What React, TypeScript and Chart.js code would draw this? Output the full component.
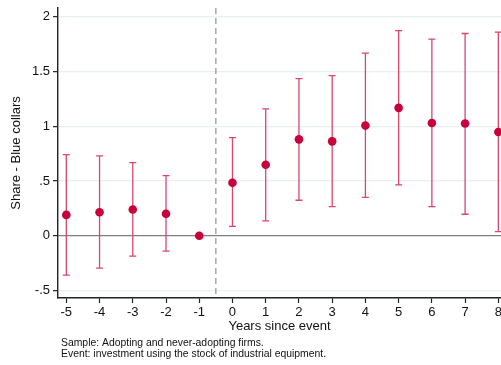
import React, { useEffect, useRef } from "react";
import { Chart, registerables } from "chart.js";
Chart.register(...registerables);

const years = [-5, -4, -3, -2, -1, 0, 1, 2, 3, 4, 5, 6, 7, 8];
const estimates = [0.19, 0.214, 0.24, 0.2, 0, 0.483, 0.648, 0.88, 0.862, 1.006, 1.168, 1.03, 1.025, 0.948];
const lowerCI = [-0.36, -0.296, -0.186, -0.14, null, 0.085, 0.135, 0.324, 0.266, 0.351, 0.465, 0.266, 0.196, 0.037];
const upperCI = [0.74, 0.73, 0.667, 0.548, null, 0.896, 1.159, 1.434, 1.462, 1.667, 1.874, 1.795, 1.847, 1.86];
const yTicks = [-0.5, 0, 0.5, 1, 1.5, 2];
const xTicks = years;
const eventLine = -0.5;
const yTitle = "Share - Blue collars";
const xTitle = "Years since event";
const notes = [
  "Sample: Adopting and never-adopting firms.",
  "Event: investment using the stock of industrial equipment.",
];

const FONT = "'Liberation Sans', Arial, sans-serif";
const POINT_COLOR = "#c8003b";
const BAR_COLOR = "#d9476e";

const fmtY = (v: number) => (v === 0 ? "0" : String(v).replace(/^(-?)0\./, "$1."));

export default function App() {
  const ref = useRef<HTMLCanvasElement | null>(null);
  useEffect(() => {
    document.body.style.margin = "0";
    const canvas = ref.current;
    if (!canvas) return;

    const errorBars = {
      id: "errorBars",
      beforeDatasetsDraw(chart: any) {
        const { ctx, scales, chartArea } = chart;
        const xs = scales.x;
        const ys = scales.y;
        ctx.save();
        const ex = xs.getPixelForValue(eventLine);
        ctx.strokeStyle = "#9a9a9a";
        ctx.lineWidth = 1.3;
        ctx.setLineDash([6, 4]);
        ctx.beginPath();
        ctx.moveTo(ex, chartArea.top);
        ctx.lineTo(ex, chartArea.bottom);
        ctx.stroke();
        ctx.setLineDash([]);
        ctx.strokeStyle = BAR_COLOR;
        ctx.lineWidth = 1.3;
        const cap = 3.5;
        years.forEach((yr, i) => {
          const lo = lowerCI[i];
          const hi = upperCI[i];
          if (lo == null || hi == null) return;
          const x = xs.getPixelForValue(yr);
          const y1 = ys.getPixelForValue(lo);
          const y2 = ys.getPixelForValue(hi);
          ctx.beginPath();
          ctx.moveTo(x, y1);
          ctx.lineTo(x, y2);
          ctx.moveTo(x - cap, y1);
          ctx.lineTo(x + cap, y1);
          ctx.moveTo(x - cap, y2);
          ctx.lineTo(x + cap, y2);
          ctx.stroke();
        });
        ctx.restore();
      },
      afterDraw(chart: any) {
        const { ctx } = chart;
        ctx.save();
        ctx.fillStyle = "#111";
        ctx.font = `10.4px ${FONT}`;
        ctx.textBaseline = "middle";
        ctx.textAlign = "left";
        notes.forEach((n, i) => ctx.fillText(n, 61, 343.3 + i * 11.2));
        ctx.restore();
      },
    };

    const chart = new Chart(canvas, {
      type: "scatter",
      data: {
        datasets: [
          {
            data: years.map((x, i) => ({ x, y: estimates[i] })),
            backgroundColor: POINT_COLOR,
            borderColor: POINT_COLOR,
            borderWidth: 0,
            pointRadius: 4.3,
            pointHoverRadius: 4.3,
          },
        ],
      },
      options: {
        responsive: false,
        animation: false,
        layout: { autoPadding: false, padding: { top: 8, left: 0, right: 0, bottom: 0 } },
        plugins: {
          legend: { display: false },
          tooltip: { enabled: false },
        },
        scales: {
          x: {
            type: "linear",
            min: -5.25,
            max: 8.08,
            afterBuildTicks: (s: any) => {
              s.ticks = xTicks.map((v) => ({ value: v }));
            },
            afterFit: (s: any) => {
              s.height = 67;
              s.paddingLeft = 0;
              s.paddingRight = 0;
            },
            grid: {
              drawOnChartArea: false,
              drawTicks: true,
              tickLength: 5,
              tickColor: "#222",
              tickWidth: 1.2,
            },
            border: { display: true, color: "#222", width: 1.4 },
            ticks: {
              autoSkip: false,
              maxRotation: 0,
              padding: 2,
              color: "#111",
              font: { family: FONT, size: 13 },
              callback: (v: any) => String(v),
            },
            title: {
              display: true,
              text: xTitle,
              color: "#111",
              font: { family: FONT, size: 13 },
              padding: { top: 0, bottom: 31.2 },
            },
          },
          y: {
            type: "linear",
            min: -0.569,
            max: 2.08,
            afterBuildTicks: (s: any) => {
              s.ticks = yTicks.map((v) => ({ value: v }));
            },
            afterFit: (s: any) => {
              s.width = 58;
              s.paddingTop = 0;
              s.paddingBottom = 0;
            },
            grid: {
              drawOnChartArea: true,
              drawTicks: true,
              tickLength: 5,
              color: (c: any) => (c.tick && c.tick.value === 0 ? "#7f7f7f" : "#e8f0f0"),
              lineWidth: (c: any) => (c.tick && c.tick.value === 0 ? 1.2 : 1.3),
              tickColor: "#222",
              tickWidth: 1.2,
            },
            border: { display: true, color: "#222", width: 1.4 },
            ticks: {
              padding: 3,
              color: "#111",
              font: { family: FONT, size: 13 },
              callback: (v: any) => fmtY(Number(v)),
            },
            title: {
              display: true,
              text: yTitle,
              color: "#111",
              font: { family: FONT, size: 13 },
              padding: { top: 9, bottom: 0 },
            },
          },
        },
      },
      plugins: [errorBars],
    } as any);
    return () => chart.destroy();
  }, []);

  return (
    <div style={{ width: 501, height: 365, background: "#fff" }}>
      <canvas ref={ref} width={501} height={365} style={{ display: "block" }} />
    </div>
  );
}
